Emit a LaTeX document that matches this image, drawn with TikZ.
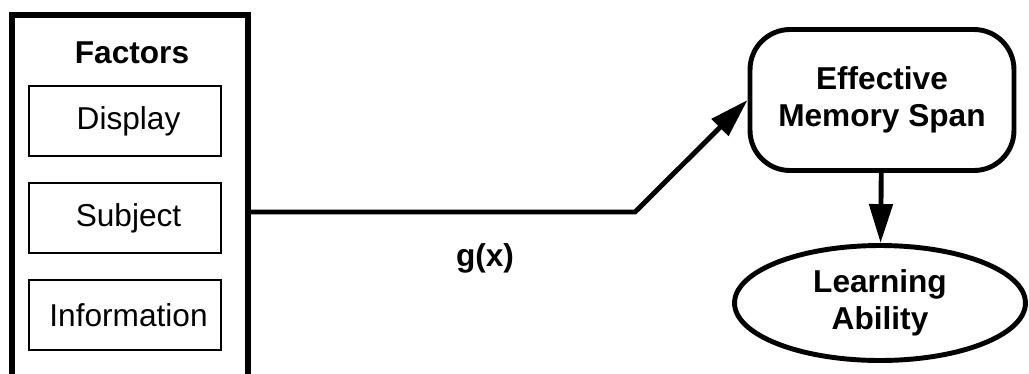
\documentclass[tikz,border=0pt]{standalone}
\usepackage{fontspec}
\setmainfont{Liberation Sans}
\usepackage{tikz}
\usetikzlibrary{arrows.meta,positioning,shapes.geometric}
\tikzset{
  frame/.style  = {draw, line width=3pt, minimum width=4.72cm, minimum height=8cm,
                   inner sep=0pt, outer sep=0pt},
  fbox/.style   = {draw, line width=1.3pt, minimum width=3.84cm, minimum height=1.4cm,
                   inner sep=0pt, outer sep=0pt, font=\fontsize{18}{21}\selectfont},
  rbox/.style   = {draw, line width=2.8pt, rounded corners=0.8cm, align=center,
                   minimum width=5.28cm, minimum height=2.82cm, inner sep=0pt,
                   font=\fontsize{18}{21}\selectfont\bfseries},
  oval/.style   = {draw, ellipse, line width=2.8pt, align=center, inner sep=0pt,
                   minimum width=5.82cm, minimum height=2.3cm,
                   font=\fontsize{18}{21}\selectfont\bfseries},
  conn/.style   = {line width=2.8pt},
  ar/.style     = {conn, -{Triangle[length=7.8mm, width=4.6mm]}},
  lbl/.style    = {font=\fontsize{18}{21}\selectfont\bfseries},
}
\begin{document}
\begin{tikzpicture}[x=0.02cm, y=-0.02cm]
  \useasboundingbox (0,0) rectangle (1029,373);
  \clip (0,0) rectangle (1029,373);
  % factor group, open at the bottom
  \node[frame, anchor=north] (factors) at (130,15) {};
  \node[lbl] (ftitle) at (132,53) {Factors};
  \node[fbox] (disp) at (125,121) {\hspace{4pt}Display};
  \node[fbox, below=5.4mm of disp] (subj) {\hspace{4pt}Subject};
  \node[fbox, below=5.4mm of subj] (info) {\hspace{4pt}Information};
  % outcomes
  \node[rbox] (ems) at (882,100) {Effective\\Memory Span};
  \node[oval] (learn) at (880,303) {Learning\\Ability};
  \coordinate (bend) at (635,212);
  \draw[ar] (factors.east |- bend) -- (bend) -- (ems.west);
  \node[lbl] (gx) at (485,258) {g(x)};
  \draw[ar] (ems) -- (learn);
\end{tikzpicture}
\end{document}
